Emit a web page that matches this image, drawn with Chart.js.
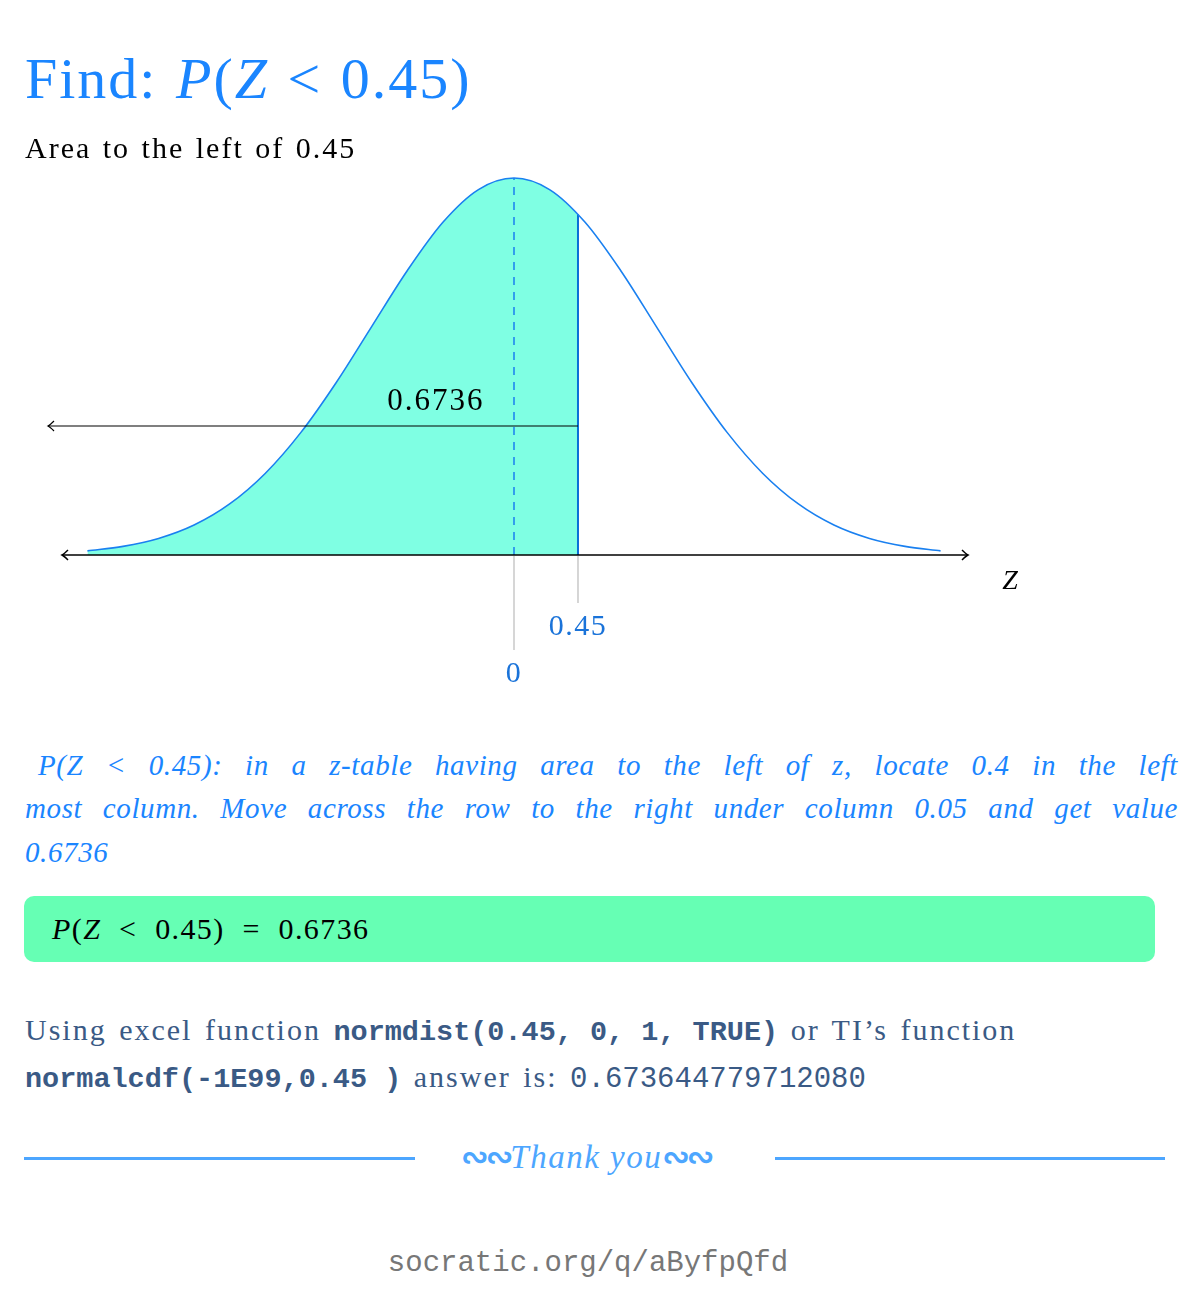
<!DOCTYPE html>
<html>
<head>
<meta charset="utf-8">
<script src="https://cdn.jsdelivr.net/npm/chart.js@4/dist/chart.umd.min.js"></script>
<style>
  html, body { margin: 0; padding: 0; background: #fff; }
  body { width: 1200px; height: 1299px; position: relative; overflow: hidden; font-family: "Liberation Serif", serif; }
  .abs { position: absolute; white-space: nowrap; }
  #chartBox { position: absolute; left: 0; top: 0; width: 1200px; height: 720px; }
  .title { left: 25px; top: 50px; font-size: 58px; line-height: 58px; color: #1a85ff; letter-spacing: 2px; word-spacing: 2px; }
  .sub { left: 25px; top: 133px; font-size: 30px; line-height: 30px; color: #000; letter-spacing: 2px; word-spacing: 2px; }
  .para { position: absolute; left: 25px; width: 1153px; font-size: 29px; line-height: 30px;
          font-style: italic; color: #1a85ff; white-space: nowrap; letter-spacing: 0.6px; }
  .just { text-align: justify; text-align-last: justify; }
  .box { position: absolute; left: 24px; top: 896px; width: 1131px; height: 66px; border-radius: 10px;
         background: #66ffb4; font-size: 30px; line-height: 66px; color: #000; letter-spacing: 1.4px; }
  .box span { padding-left: 28px; }
  .excel { position: absolute; left: 25px; top: 1008px; width: 1150px; font-size: 30px; line-height: 44px; color: #3a5a85;
           letter-spacing: 2px; word-spacing: 3px; white-space: nowrap; }
  .mono { font-family: "Liberation Mono", monospace; font-weight: bold; font-size: 28.5px; letter-spacing: 0; word-spacing: 0; }
  .mono2 { font-family: "Liberation Mono", monospace; font-size: 29px; letter-spacing: 0; word-spacing: 0; }
  .rule { position: absolute; top: 1157px; height: 3px; background: #4da6ff; }
  .thanks { left: 461px; top: 1138px; font-size: 33px; line-height: 38px; color: #4da6ff; font-style: italic; letter-spacing: 1.5px; }
  .orn { font-family: "DejaVu Sans", sans-serif; font-style: normal; font-weight: bold; font-size: 33px; letter-spacing: -3px; }
  .site { left: 0; width: 1176px; text-align: center; top: 1247px; font-family: "Liberation Mono", monospace;
          font-size: 29px; line-height: 34px; color: #777; }
</style>
</head>
<body>
<div id="chartBox"><canvas id="normalChart"></canvas></div>

<div class="abs title">Find: <i>P</i>(<i>Z</i> &lt; 0.45)</div>
<div class="abs sub">Area to the left of 0.45</div>

<div class="para just" style="top:750px;left:38px;width:1140px">P(Z &lt; 0.45): in a z-table having area to the left of z, locate 0.4 in the left</div>
<div class="para just" style="top:793px">most column. Move across the row to the right under column 0.05 and get value</div>
<div class="para" style="top:837px">0.6736</div>

<div class="box"><span><i>P</i>(<i>Z</i>&nbsp; &lt;&nbsp; 0.45)&nbsp; =&nbsp; 0.6736</span></div>

<div class="excel">Using excel function <span class="mono">normdist(0.45, 0, 1, TRUE)</span> or TI’s function<br><span class="mono">normalcdf(-1E99,0.45 )</span> answer is: <span class="mono2">0.673644779712080</span></div>

<div class="rule" style="left:24px;width:391px"></div>
<div class="rule" style="left:775px;width:390px"></div>
<div class="abs thanks"><span class="orn">∾∾</span>Thank you<span class="orn">∾∾</span></div>

<div class="abs site">socratic.org/q/aByfpQfd</div>

<script>
// standard normal curve, z vs density
const zValues = [-3, -2.75, -2.5, -2.25, -2, -1.75, -1.5, -1.25, -1, -0.75, -0.5, -0.25, 0,
                 0.25, 0.5, 0.75, 1, 1.25, 1.5, 1.75, 2, 2.25, 2.5, 2.75, 3];
const density = [0.0044, 0.0091, 0.0175, 0.0317, 0.0540, 0.0863, 0.1295, 0.1826, 0.2420, 0.3011, 0.3521, 0.3867, 0.3989,
                 0.3867, 0.3521, 0.3011, 0.2420, 0.1826, 0.1295, 0.0863, 0.0540, 0.0317, 0.0175, 0.0091, 0.0044];

// shaded region: left of z = 0.45
const cutZ = 0.45;
const cutDensity = 0.3605;
const areaLabel = "0.6736";
const tickLabels = ["0", "0.45"];
const tickZ = [0, 0.45];

const curvePts = zValues.map((z, i) => ({ x: z, y: density[i] }));
const shadePts = curvePts.filter(p => p.x < cutZ).concat([{ x: cutZ, y: cutDensity }]);

const blue = "#1a80f0";

const overlay = {
  id: "overlay",
  afterDatasetsDraw(chart) {
    const ctx = chart.ctx;
    const xs = chart.scales.x, ys = chart.scales.y;
    const y0 = ys.getPixelForValue(0);
    const left = xs.getPixelForValue(-3.2), right = xs.getPixelForValue(3.2);
    ctx.save();

    // gray ticks below axis
    ctx.strokeStyle = "#c8c8c8";
    ctx.lineWidth = 1.5;
    const tickLen = [95, 48];
    tickZ.forEach((z, i) => {
      const px = xs.getPixelForValue(z);
      ctx.beginPath();
      ctx.moveTo(px, y0 + 1);
      ctx.lineTo(px, y0 + tickLen[i]);
      ctx.stroke();
    });

    // z axis with arrows both ends
    ctx.strokeStyle = "#000";
    ctx.lineWidth = 1.5;
    ctx.beginPath();
    ctx.moveTo(left + 3, y0);
    ctx.lineTo(right - 1, y0);
    ctx.stroke();
    const head = (x, y, dir) => {
      ctx.beginPath();
      ctx.moveTo(x - dir * 6, y - 5);
      ctx.quadraticCurveTo(x - dir * 2, y - 1, x, y);
      ctx.quadraticCurveTo(x - dir * 2, y + 1, x - dir * 6, y + 5);
      ctx.stroke();
    };
    head(left + 3, y0, -1);
    head(right - 1, y0, 1);

    // area arrow pointing left
    const ya = ys.getPixelForValue(0.1365);
    const xc = xs.getPixelForValue(cutZ);
    ctx.lineWidth = 1.2;
    ctx.beginPath();
    ctx.moveTo(xc, ya);
    ctx.lineTo(48, ya);
    ctx.stroke();
    head(48, ya, -1);

    // labels
    ctx.textAlign = "center";
    ctx.textBaseline = "alphabetic";
    ctx.fillStyle = "#000";
    ctx.font = "31px 'Liberation Serif'";
    ctx.letterSpacing = "2px";
    ctx.fillText(areaLabel, xs.getPixelForValue(-0.55), ya - 16);
    ctx.letterSpacing = "0px";
    ctx.font = "italic 28px 'Liberation Serif'";
    ctx.fillText("Z", 1010, y0 + 34);
    ctx.fillStyle = "#1a73d9";
    ctx.font = "30px 'Liberation Serif'";
    ctx.letterSpacing = "1.5px";
    ctx.fillText(tickLabels[0], xs.getPixelForValue(tickZ[0]), y0 + 127);
    ctx.fillText(tickLabels[1], xs.getPixelForValue(tickZ[1]), y0 + 80);
    ctx.restore();
  }
};

new Chart(document.getElementById("normalChart"), {
  type: "line",
  data: {
    datasets: [
      {
        data: curvePts,
        borderColor: blue,
        borderWidth: 1.6,
        pointRadius: 0,
        cubicInterpolationMode: "monotone",
        fill: false,
        order: 1
      },
      {
        data: shadePts,
        borderWidth: 0,
        borderColor: "rgba(0,0,0,0)",
        backgroundColor: "#7fffe3",
        pointRadius: 0,
        cubicInterpolationMode: "monotone",
        fill: "origin",
        order: 3
      },
      {
        data: [{ x: cutZ, y: 0 }, { x: cutZ, y: cutDensity }],
        borderColor: "#0a6ed8",
        borderWidth: 2,
        pointRadius: 0,
        fill: false,
        order: 2
      },
      {
        data: [{ x: 0, y: 0 }, { x: 0, y: 0.3989 }],
        borderColor: blue,
        borderWidth: 1.5,
        borderDash: [8, 7],
        pointRadius: 0,
        fill: false,
        order: 2
      }
    ]
  },
  options: {
    responsive: true,
    maintainAspectRatio: false,
    animation: false,
    layout: { padding: { left: 59, right: 231, top: 177, bottom: 165 } },
    scales: {
      x: { type: "linear", min: -3.2, max: 3.2, display: false },
      y: { min: 0, max: 0.4, display: false }
    },
    plugins: { legend: { display: false }, tooltip: { enabled: false } }
  },
  plugins: [overlay]
});
</script>
</body>
</html>
